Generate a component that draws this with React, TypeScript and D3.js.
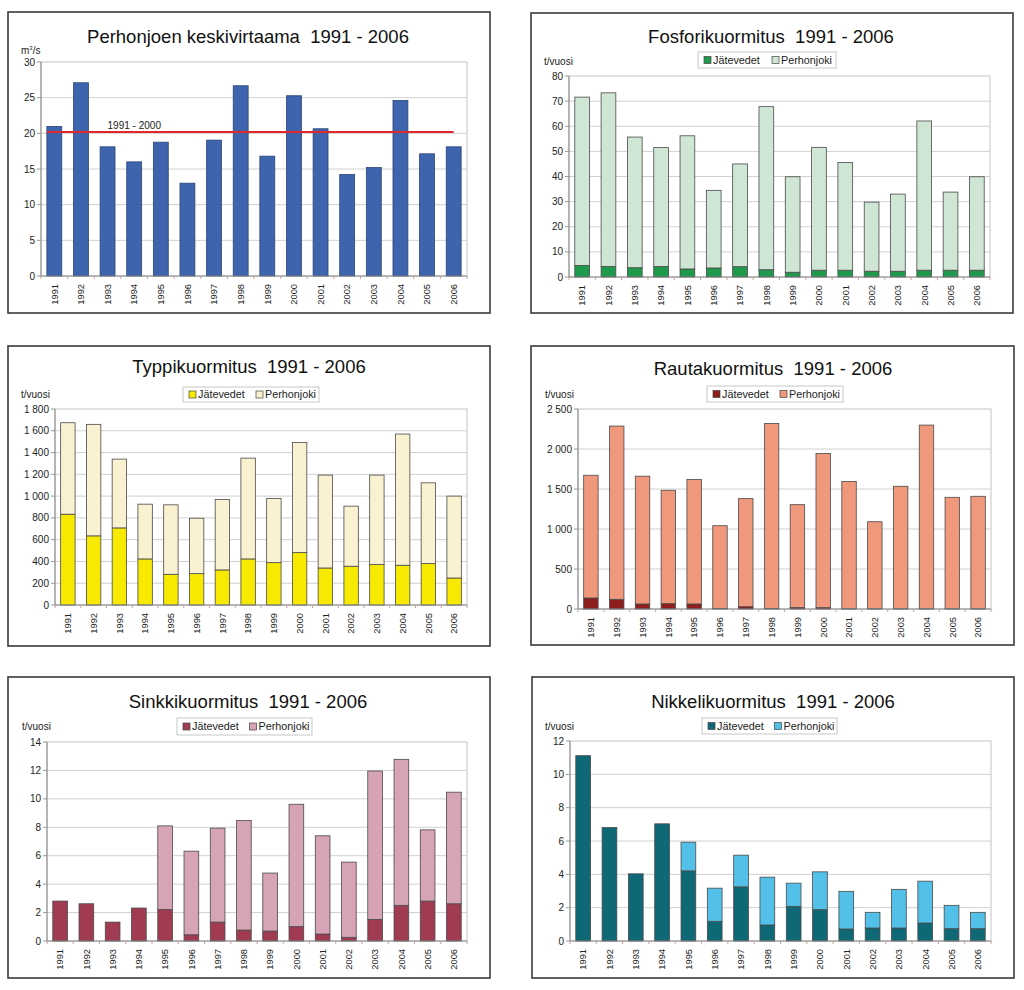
import React from "react";
import * as d3 from "d3";

const years = ["1991","1992","1993","1994","1995","1996","1997","1998","1999","2000","2001","2002","2003","2004","2005","2006"];

const flow = [20.96, 27.09, 18.11, 16.0, 18.76, 13.01, 19.05, 26.67, 16.8, 25.27, 20.64, 14.23, 15.21, 24.61, 17.13, 18.11];
const flowMean = 20.17;
const flowMeanLabel = "1991 - 2000";

const pJate = [4.6, 4.2, 3.7, 4.2, 3.2, 3.6, 4.1, 2.9, 1.9, 2.7, 2.7, 2.3, 2.3, 2.7, 2.7, 2.7];
const pPerh = [67.0, 69.1, 52.0, 47.3, 53.0, 30.9, 40.9, 64.9, 38.0, 48.9, 42.9, 27.5, 30.7, 59.4, 31.1, 37.2];

const nJate = [834, 635, 708, 423, 282, 288, 322, 423, 389, 481, 340, 356, 371, 365, 380, 248];
const nPerh = [840, 1024, 632, 503, 638, 509, 647, 926, 589, 1012, 853, 552, 822, 1205, 742, 752];

const feJate = [138, 121, 63, 67, 63, 8, 29, 8, 17, 17, 3, 3, 3, 3, 3, 3];
const fePerh = [1534, 2166, 1597, 1417, 1555, 1033, 1351, 2312, 1287, 1927, 1590, 1088, 1531, 2296, 1393, 1406];

const znJate = [2.81, 2.62, 1.33, 2.32, 2.22, 0.44, 1.33, 0.77, 0.70, 1.01, 0.49, 0.26, 1.52, 2.51, 2.81, 2.62];
const znPerh = [0, 0, 0, 0, 5.88, 5.88, 6.61, 7.71, 4.08, 8.61, 6.91, 5.29, 10.44, 10.27, 5.01, 7.85];

const niJate = [11.12, 6.81, 4.03, 7.03, 4.21, 1.18, 3.25, 0.96, 2.08, 1.88, 0.72, 0.78, 0.78, 1.08, 0.74, 0.74];
const niPerh = [0, 0, 0, 0, 1.72, 1.99, 1.90, 2.87, 1.39, 2.27, 2.26, 0.94, 2.32, 2.51, 1.40, 0.98];

const seriesNames = ["Jätevedet", "Perhonjoki"];

const FONT = "'Liberation Sans', Arial, Helvetica, sans-serif";
const fmt = (v: number) => {
  const s = String(v);
  if (Math.abs(v) >= 1000) return s.replace(/\B(?=(\d{3})+(?!\d))/g, " ");
  return s;
};

type PanelProps = {
  box: { x: number; y: number; w: number; h: number };
  plot: { l: number; t: number; r: number; b: number };
  title: string;
  titleX: number;
  titleY: number;
  unit: React.ReactNode;
  unitX: number;
  unitY: number;
  yMax: number;
  yStep: number;
  series: number[][];
  colors: string[];
  legend?: { x0: number; x1: number; y0: number; y1: number };
  children?: (x: d3.ScaleBand<string>, y: d3.ScaleLinear<number, number>) => React.ReactNode;
};

function Panel(p: PanelProps) {
  const { plot } = p;
  const x = d3.scaleBand<string>().domain(years).range([plot.l, plot.r]).paddingInner(0.44).paddingOuter(0.22);
  const y = d3.scaleLinear().domain([0, p.yMax]).range([plot.b, plot.t]);
  const ticks = d3.range(0, p.yMax + p.yStep / 2, p.yStep);
  const step = x.step();
  const stacked = p.series.length > 1
    ? d3.stack<number>().keys(p.series.map((_, i) => String(i))).value((d: any, k) => p.series[+k][d])(d3.range(years.length) as any)
    : null;
  return (
    <g>
      <rect x={p.box.x} y={p.box.y} width={p.box.w} height={p.box.h} fill="#fff" stroke="#3a3a3a" strokeWidth={1.6} />
      <text x={p.titleX} y={p.titleY} textAnchor="middle" fontSize={18.5} fontFamily={FONT} fill="#111" style={{ whiteSpace: "pre" }}>{p.title}</text>
      <text x={p.unitX} y={p.unitY} fontSize={10} fontFamily={FONT} fill="#222">{p.unit}</text>
      {/* plot area */}
      <rect x={plot.l} y={plot.t} width={plot.r - plot.l} height={plot.b - plot.t} fill="#fff" stroke="#c4c4c4" strokeWidth={1} />
      {ticks.map((t) => (
        <g key={t}>
          {t > 0 && t < p.yMax && <line x1={plot.l} x2={plot.r} y1={y(t)} y2={y(t)} stroke="#d0d0d0" strokeWidth={1} />}
          <line x1={plot.l - 4} x2={plot.l} y1={y(t)} y2={y(t)} stroke="#999" />
          <text x={plot.l - 6} y={y(t) + 3.5} textAnchor="end" fontSize={10} fontFamily={FONT} fill="#222">{fmt(t)}</text>
        </g>
      ))}
      {/* bars */}
      {stacked
        ? stacked.map((layer, si) =>
            layer.map((d, i) => {
              const h = y(d[0]) - y(d[1]);
              if (h <= 0) return null;
              return (
                <rect key={si + "-" + i} x={x(years[i])!} y={y(d[1])} width={x.bandwidth()} height={h}
                  fill={p.colors[si]} stroke="#4a4a4a" strokeWidth={0.8} />
              );
            })
          )
        : p.series[0].map((v, i) => (
            <rect key={i} x={x(years[i])!} y={y(v)} width={x.bandwidth()} height={y(0) - y(v)}
              fill={p.colors[0]} stroke="#2b4577" strokeWidth={0.8} />
          ))}
      {/* axes */}
      <line x1={plot.l} x2={plot.l} y1={plot.t} y2={plot.b} stroke="#888" />
      <line x1={plot.l} x2={plot.r} y1={plot.b} y2={plot.b} stroke="#888" />
      {d3.range(years.length + 1).map((i) => (
        <line key={"xt" + i} x1={plot.l + i * step} x2={plot.l + i * step} y1={plot.b} y2={plot.b + 3} stroke="#c9a0a0" />
      ))}
      {years.map((yr) => {
        const cx = x(yr)! + x.bandwidth() / 2 + 3.3;
        const cy = plot.b + 8;
        return (
          <text key={yr} transform={`translate(${cx},${cy}) rotate(-90)`} textAnchor="end" fontSize={9.3} fontFamily={FONT} fill="#222">{yr}</text>
        );
      })}
      {p.children && p.children(x, y)}
      {p.legend && (
        <g>
          <rect x={p.legend.x0} y={p.legend.y0} width={p.legend.x1 - p.legend.x0} height={p.legend.y1 - p.legend.y0} fill="#fff" stroke="#c8c8c8" />
          {seriesNames.map((name, i) => {
            const lx = p.legend!.x0 + 6 + i * ((p.legend!.x1 - p.legend!.x0) / 2 - 1);
            const cy = (p.legend!.y0 + p.legend!.y1) / 2;
            return (
              <g key={name}>
                <rect x={lx} y={cy - 3.5} width={7} height={7} fill={p.colors[i]} stroke="#444" strokeWidth={0.7} />
                <text x={lx + 9} y={cy + 3.8} fontSize={10.8} fontFamily={FONT} fill="#222">{name}</text>
              </g>
            );
          })}
        </g>
      )}
    </g>
  );
}

export default function App() {
  const tUnit = "t/vuosi";
  return (
    <svg width={1024} height={990} style={{ display: "block", position: "absolute", left: 0, top: 0 }}>
      <rect x={0} y={0} width={1024} height={990} fill="#fff" />
      <Panel
        box={{ x: 8, y: 12, w: 482, h: 301 }}
        plot={{ l: 41, t: 62, r: 467, b: 276 }}
        title="Perhonjoen keskivirtaama  1991 - 2006"
        titleX={248} titleY={43}
        unit={<tspan>m<tspan fontSize={6} dy={-4}>3</tspan><tspan dy={4}>/s</tspan></tspan>}
        unitX={21} unitY={54}
        yMax={30} yStep={5}
        series={[flow]}
        colors={["#3d64ad"]}
      >
        {(x, y) => {
          const x0 = x(years[0])!;
          const x1 = x(years[years.length - 1])! + x.bandwidth() / 2;
          return (
            <g>
              <line x1={x0} x2={x1} y1={y(flowMean)} y2={y(flowMean)} stroke="#e0282c" strokeWidth={2} />
              <text x={x(years[2])! + x.bandwidth() / 2} y={y(flowMean) - 3} fontSize={10} fontFamily={FONT} fill="#222">{flowMeanLabel}</text>
            </g>
          );
        }}
      </Panel>
      <Panel
        box={{ x: 531, y: 13, w: 482, h: 300 }}
        plot={{ l: 569, t: 76, r: 990, b: 277 }}
        title="Fosforikuormitus  1991 - 2006"
        titleX={771} titleY={43}
        unit={tUnit} unitX={544} unitY={65}
        yMax={80} yStep={10}
        series={[pJate, pPerh]}
        colors={["#1f9a4c", "#cfe6d5"]}
        legend={{ x0: 698, x1: 836, y0: 52, y1: 68 }}
      />
      <Panel
        box={{ x: 8, y: 346, w: 482, h: 300 }}
        plot={{ l: 55, t: 409, r: 467, b: 605 }}
        title="Typpikuormitus  1991 - 2006"
        titleX={249} titleY={373}
        unit={tUnit} unitX={21} unitY={398}
        yMax={1800} yStep={200}
        series={[nJate, nPerh]}
        colors={["#f7ea00", "#faf1d0"]}
        legend={{ x0: 183, x1: 319, y0: 387, y1: 402 }}
      />
      <Panel
        box={{ x: 531, y: 346, w: 483, h: 299 }}
        plot={{ l: 578, t: 409, r: 991, b: 609 }}
        title="Rautakuormitus  1991 - 2006"
        titleX={773} titleY={375}
        unit={tUnit} unitX={545} unitY={398}
        yMax={2500} yStep={500}
        series={[feJate, fePerh]}
        colors={["#8e1f1e", "#f0987b"]}
        legend={{ x0: 707, x1: 843, y0: 386, y1: 402 }}
      />
      <Panel
        box={{ x: 8, y: 677, w: 482, h: 301 }}
        plot={{ l: 47, t: 742, r: 467, b: 941 }}
        title="Sinkkikuormitus  1991 - 2006"
        titleX={248} titleY={708}
        unit={tUnit} unitX={22} unitY={730}
        yMax={14} yStep={2}
        series={[znJate, znPerh]}
        colors={["#a03b52", "#d6a4b4"]}
        legend={{ x0: 177, x1: 312, y0: 718, y1: 735 }}
      />
      <Panel
        box={{ x: 532, y: 677, w: 482, h: 301 }}
        plot={{ l: 570, t: 741, r: 991, b: 941 }}
        title="Nikkelikuormitus  1991 - 2006"
        titleX={773} titleY={708}
        unit={tUnit} unitX={545} unitY={730}
        yMax={12} yStep={2}
        series={[niJate, niPerh]}
        colors={["#0e6876", "#52c0e8"]}
        legend={{ x0: 702, x1: 837, y0: 718, y1: 734 }}
      />
    </svg>
  );
}
